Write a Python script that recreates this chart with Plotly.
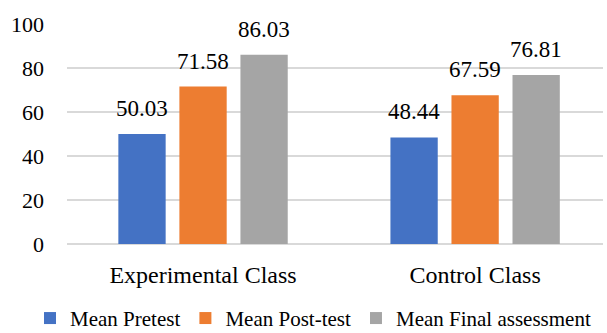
import plotly.graph_objects as go

# Mean scores per class
classes = ["Experimental Class", "Control Class"]
series_names = ["Mean Pretest", "Mean Post-test", "Mean Final assessment"]
pretest = [50.03, 48.44]
posttest = [71.58, 67.59]
final_assessment = [86.03, 76.81]
y_ticks = [0, 20, 40, 60, 80, 100]

colors = ["#4472C4", "#ED7D31", "#A5A5A5"]
FONT = "serif"
BARGAP = 0.327
BARGROUPGAP = 0.225

fig = go.Figure()
all_series = [pretest, posttest, final_assessment]
for name, vals, col in zip(series_names, all_series, colors):
    fig.add_trace(go.Bar(
        x=classes, y=vals, name=name,
        marker=dict(color=col, line=dict(width=0)),
    ))

# value labels above each bar, offset within its group
slot = (1 - BARGAP) / len(all_series)
for j, vals in enumerate(all_series):
    for i, v in enumerate(vals):
        fig.add_annotation(
            x=i + (j - 1) * slot, y=v, xref="x", yref="y",
            text=f"{v:.2f}", showarrow=False,
            yanchor="bottom", yshift=11,
            font=dict(family=FONT, size=23, color="#000000"),
        )

fig.update_layout(
    width=607, height=333,
    margin=dict(l=67, r=4, t=24, b=88.5, autoexpand=False),
    paper_bgcolor="white", plot_bgcolor="white",
    barmode="group", bargap=BARGAP, bargroupgap=BARGROUPGAP,
    font=dict(family=FONT, size=22, color="#000000"),
    showlegend=True,
    legend=dict(
        orientation="h", xref="paper", x=-0.069, xanchor="left",
        yref="paper", y=-0.245, yanchor="top",
        font=dict(family=FONT, size=21, color="#000000"),
        itemwidth=30, tracegroupgap=0,
    ),
)
fig.update_xaxes(
    range=[-0.5, 1.47], showgrid=False, showline=False, zeroline=False,
    ticks="", ticklabelstandoff=14,
    tickfont=dict(family=FONT, size=24, color="#000000"),
)
fig.update_yaxes(
    range=[0, 100], tickvals=y_ticks, showgrid=True,
    gridcolor="#D9D9D9", gridwidth=1.5, zeroline=True,
    zerolinecolor="#D9D9D9", zerolinewidth=1.5, showline=False,
    ticks="", ticklabelstandoff=22,
    tickfont=dict(family=FONT, size=22, color="#000000"),
)

fig.write_html("out.html")
